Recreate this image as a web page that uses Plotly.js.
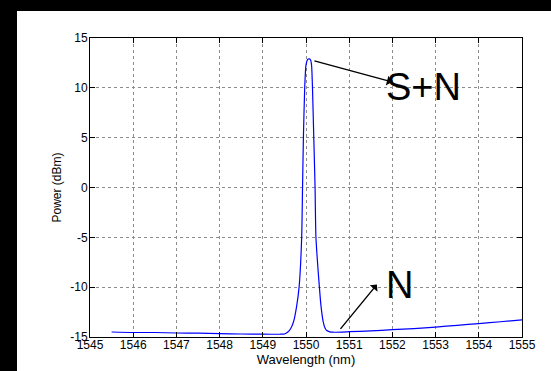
<!DOCTYPE html>
<html>
<head>
<meta charset="utf-8">
<script src="https://cdn.plot.ly/plotly-3.0.1.min.js"></script>
<style>
  html, body { margin: 0; padding: 0; background: #000; width: 551px; height: 371px; overflow: hidden; }
  #chart { position: absolute; left: 17px; top: 11px; width: 534px; height: 360px; }
</style>
</head>
<body>
<div id="chart"></div>
<script>
// Spectrum
const wavelength = [1545.5, 1546.0, 1546.5, 1547.0, 1547.5, 1548.0, 1548.5, 1549.0, 1549.4, 1549.5,
  1549.58, 1549.64, 1549.71, 1549.78, 1549.84, 1549.90, 1549.92, 1549.94, 1549.97, 1550.0,
  1550.04, 1550.075, 1550.11, 1550.13, 1550.15, 1550.18, 1550.21, 1550.23, 1550.31, 1550.35,
  1550.40, 1550.44, 1550.48, 1550.55, 1550.63, 1551.0, 1551.5, 1552.0, 1552.5, 1553.0,
  1553.5, 1554.0, 1554.5, 1555.0];
const power = [-14.5, -14.55, -14.55, -14.6, -14.62, -14.67, -14.7, -14.72, -14.72, -14.7,
  -14.5, -14.2, -13.5, -12.0, -10.0, -5.0, 0.0, 5.0, 10.0, 12.3,
  12.85, 12.9, 12.75, 12.2, 10.0, 5.0, 0.0, -5.0, -10.0, -12.0,
  -13.5, -14.1, -14.35, -14.48, -14.52, -14.47, -14.38, -14.27, -14.15, -14.0,
  -13.83, -13.65, -13.47, -13.28];

const xTickVals = [1545, 1546, 1547, 1548, 1549, 1550, 1551, 1552, 1553, 1554, 1555];
const xTickText = ["1545", "1546", "1547", "1548", "1549", "1550", "1551", "1552", "1553", "1554", "1555"];
const yTickVals = [-15, -10, -5, 0, 5, 10, 15];
const yTickText = ["-15", "-10", "-5", "0", "5", "10", "15"];

const xTitle = "Wavelength (nm)";
const yTitle = "Power (dBm)";

// Annotation labels and their arrow endpoints (head, tail)
const labelText = ["S+N", "N"];
const labelPos = [[1552.71, 10.07], [1552.16, -9.74]];
const arrowHead = [[1551.99, 10.59], [1551.64, -9.74]];
const arrowTail = [[1550.16, 12.75], [1550.77, -14.33]];

const FONT = "Liberation Sans, Arial, sans-serif";

const annotations = [];
for (let i = 0; i < labelText.length; i++) {
  annotations.push({
    x: arrowHead[i][0], y: arrowHead[i][1], xref: 'x', yref: 'y',
    ax: arrowTail[i][0], ay: arrowTail[i][1], axref: 'x', ayref: 'y',
    text: '', showarrow: true, arrowhead: 1, arrowsize: 1.2, arrowwidth: 1.4, arrowcolor: '#000'
  });
  annotations.push({
    x: labelPos[i][0], y: labelPos[i][1], xref: 'x', yref: 'y',
    text: labelText[i], showarrow: false,
    font: { family: FONT, size: 38, color: '#000' }
  });
}

const axisCommon = {
  showline: true, linecolor: '#000', linewidth: 1, mirror: 'ticks',
  ticks: 'inside', ticklen: 5, tickcolor: '#000', tickwidth: 1,
  showgrid: true, gridcolor: '#8c8c8c', griddash: 'dot', gridwidth: 1,
  zeroline: false, tickmode: 'array',
  tickfont: { family: FONT, size: 12, color: '#000' }
};

const layout = {
  width: 534, height: 360,
  margin: { l: 72.5, r: 29, t: 27.3, b: 34.3 },
  paper_bgcolor: '#fff', plot_bgcolor: '#fff',
  showlegend: false,
  xaxis: Object.assign({}, axisCommon, {
    range: [1545, 1555], tickvals: xTickVals, ticktext: xTickText,
    ticklabelstandoff: -3,
    title: { text: xTitle, font: { family: FONT, size: 13, color: '#000' }, standoff: 1 }
  }),
  yaxis: Object.assign({}, axisCommon, {
    range: [-15, 15], tickvals: yTickVals, ticktext: yTickText,
    ticklabelstandoff: -1,
    title: { text: yTitle, font: { family: FONT, size: 12, color: '#000' }, standoff: 6 }
  }),
  annotations: annotations
};

Plotly.newPlot('chart', [{
  x: wavelength, y: power, type: 'scatter', mode: 'lines',
  line: { color: '#0000ff', width: 1.2, shape: 'spline', smoothing: 0.6 },
  hoverinfo: 'skip'
}], layout, { staticPlot: true, displayModeBar: false });
</script>
</body>
</html>
